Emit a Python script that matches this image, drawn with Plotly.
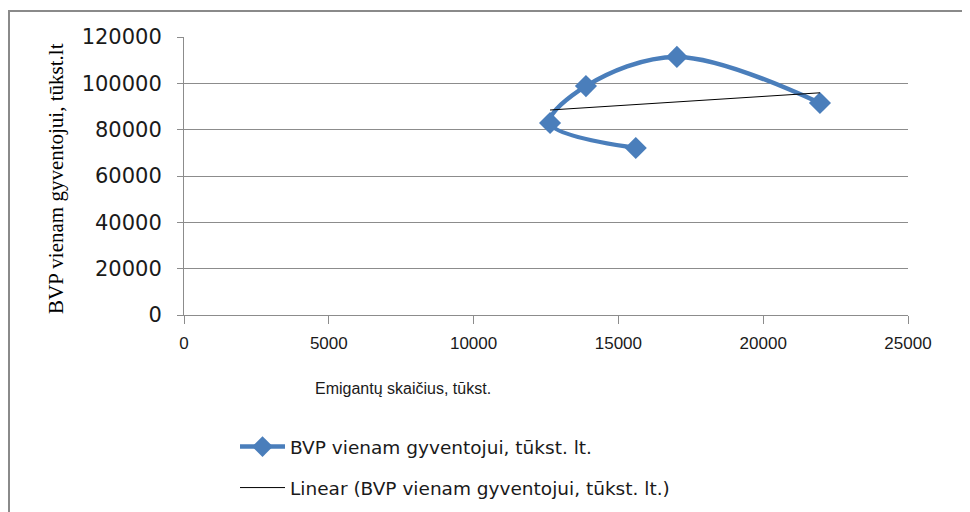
import numpy as np
import plotly.graph_objects as go

# Data
emigrants = [15600, 12640, 13880, 17020, 21960]
bvp = [72100, 82900, 98800, 111400, 91500]
series_name = "BVP vienam gyventojui, tūkst. lt."
trend_name = "Linear (BVP vienam gyventojui, tūkst. lt.)"
x_title = "Emigantų skaičius, tūkst."
y_title = "BVP vienam gyventojui, tūkst.lt"
x_ticks = [0, 5000, 10000, 15000, 20000, 25000]
y_ticks = [0, 20000, 40000, 60000, 80000, 100000, 120000]

# linear trend (least squares) over the data
slope, intercept = np.polyfit(emigrants, bvp, 1)
tx = [min(emigrants), max(emigrants)]
ty = [slope * v + intercept for v in tx]

# figure is placed at page offset (8, 8) by the default body margin
W, H = 962, 504
L, R, T, B = 176, 62, 29, 197
pw, ph = W - L - R, H - T - B

def px_x(p):
    return (p - L) / pw

def px_y(p):
    return (H - B - p) / ph

BLUE = "#4A7EBB"
GRID = "#8C8C8C"
TXT = "#1a1a1a"

fig = go.Figure()
fig.add_trace(go.Scatter(
    x=emigrants, y=bvp, name=series_name, legendgroup="a",
    mode="lines+markers",
    line=dict(color=BLUE, width=4.5, shape="spline", smoothing=1.0),
    marker=dict(symbol="diamond", size=17, color=BLUE),
))
fig.add_trace(go.Scatter(
    x=tx, y=ty, name=trend_name, legendgroup="b",
    mode="lines", line=dict(color="#000000", width=1),
))

fig.update_layout(
    width=W, height=H,
    margin=dict(l=L, r=R, t=T, b=B, autoexpand=False),
    paper_bgcolor="white", plot_bgcolor="white",
    showlegend=True,
    legend=dict(
        xref="container", yref="container",
        x=227 / W, xanchor="left", y=1 - 420 / H, yanchor="top",
        font=dict(family="DejaVu Sans", size=18.5, color=TXT),
        tracegroupgap=14, itemwidth=45,
        bgcolor="rgba(0,0,0,0)",
    ),
    xaxis=dict(
        range=[0, 25000], tickvals=x_ticks, ticktext=[str(v) for v in x_ticks],
        showgrid=False, zeroline=False,
        showline=True, linecolor=GRID, linewidth=1,
        ticks="outside", ticklen=8, tickcolor=GRID,
        ticklabelstandoff=5,
        tickfont=dict(family="Liberation Sans", size=17, color=TXT),
    ),
    yaxis=dict(
        range=[0, 120000], tickvals=y_ticks, ticktext=[str(v) for v in y_ticks],
        showgrid=True, gridcolor=GRID, gridwidth=1,
        zeroline=False,
        showline=True, linecolor=GRID, linewidth=1,
        ticks="outside", ticklen=6, tickcolor=GRID,
        ticklabelstandoff=11,
        tickfont=dict(family="DejaVu Sans", size=21, color=TXT),
    ),
    annotations=[
        dict(text=x_title, xref="paper", yref="paper",
             x=px_x(395), y=px_y(380), xanchor="center", yanchor="middle",
             showarrow=False,
             font=dict(family="Liberation Sans", size=16, color=TXT)),
        dict(text=y_title, xref="paper", yref="paper",
             x=px_x(48), y=px_y(171), xanchor="center", yanchor="middle",
             textangle=-90, showarrow=False,
             font=dict(family="Liberation Serif, serif", size=21, color="#000000")),
    ],
    shapes=[dict(
        type="rect", xref="paper", yref="paper",
        x0=px_x(1), x1=px_x(960), y0=px_y(530), y1=px_y(3),
        line=dict(color="#8A8A8A", width=2), fillcolor="rgba(0,0,0,0)", layer="below",
    )],
)

fig.write_html("out.html")
